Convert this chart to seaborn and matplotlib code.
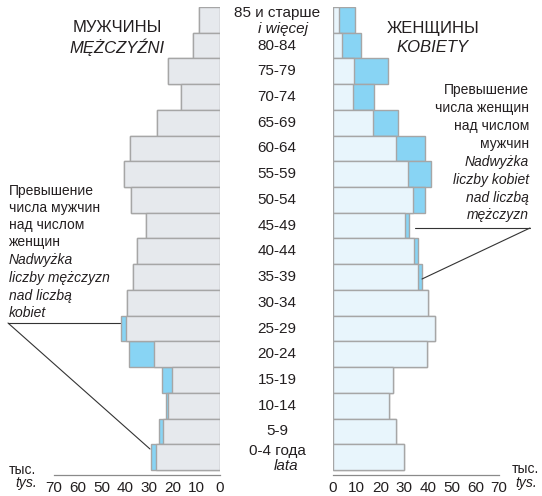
import matplotlib
matplotlib.use("Agg")
import matplotlib.pyplot as plt
import seaborn as sns
import pandas as pd
from matplotlib.lines import Line2D
from matplotlib.transforms import blended_transform_factory

# ---------------- data ----------------
ages = ["85+", "80-84", "75-79", "70-74", "65-69", "60-64", "55-59", "50-54",
        "45-49", "40-44", "35-39", "30-34", "25-29", "20-24", "15-19",
        "10-14", "5-9", "0-4"]
men_total = [8.8, 11.2, 22.1, 16.6, 26.7, 37.9, 40.4, 37.7, 31.3, 35.1,
             36.7, 39.1, 41.8, 38.4, 24.3, 22.9, 25.7, 29.2]
men_base = [8.8, 11.2, 22.1, 16.6, 26.7, 37.9, 40.4, 37.7, 31.3, 35.1,
            36.7, 39.1, 39.7, 27.8, 20.4, 21.9, 24.2, 27.1]
women_total = [9.4, 12.0, 23.1, 17.3, 27.6, 39.0, 41.3, 38.7, 32.2, 35.9,
               37.7, 40.1, 43.0, 39.5, 25.2, 23.6, 26.6, 29.9]
women_base = [2.5, 3.8, 8.9, 8.4, 16.9, 26.4, 31.8, 33.9, 30.4, 34.2,
              36.0, 40.1, 43.0, 39.5, 25.2, 23.6, 26.6, 29.9]
xticks = [0, 10, 20, 30, 40, 50, 60, 70]

df = pd.DataFrame({"age": ages, "men_total": men_total, "men_base": men_base,
                   "women_total": women_total, "women_base": women_base})

sns.set_style("white")
FONT = ["Liberation Sans Narrow", "Liberation Sans", "DejaVu Sans"]
plt.rcParams["font.family"] = FONT

W, H = 542, 496
fig = plt.figure(figsize=(W / 100, H / 100), dpi=100)

def fx(x):
    return x / W

def fy(y):
    return 1 - y / H

EXCESS = "#88d4f4"
MEN_BASE = "#e6e9ed"
WOMEN_BASE = "#e8f5fc"
EDGE = "#a6a6a6"
TXT = "#231f20"

AGE_FS = 11
TICK_FS = 11
NOTE_FS = 10
TITLE_FS = 12

ax_bottom_px = 475
ax_top_px = 7
row_h = (470 - 7) / 18.0
extra = (ax_bottom_px - 470) / row_h

axL = fig.add_axes([fx(54), fy(ax_bottom_px), fx(220) - fx(54), (ax_bottom_px - ax_top_px) / H])
axR = fig.add_axes([fx(333), fy(ax_bottom_px), fx(499) - fx(333), (ax_bottom_px - ax_top_px) / H])

for ax, tot, base, bcol in [(axL, "men_total", "men_base", MEN_BASE),
                            (axR, "women_total", "women_base", WOMEN_BASE)]:
    sns.barplot(data=df, x=tot, y="age", order=ages, orient="h", color=EXCESS,
                saturation=1, width=1.0, edgecolor=EDGE, linewidth=1.0, ax=ax)
    sns.barplot(data=df, x=base, y="age", order=ages, orient="h", color=bcol,
                saturation=1, width=1.0, edgecolor=EDGE, linewidth=1.0, ax=ax)
    ax.set_ylim(17.5 + extra, -0.5)
    ax.set_xticks(xticks)
    ax.set_xticklabels([str(t) for t in xticks])
    ax.set_yticks([])
    ax.set_xlabel("")
    ax.set_ylabel("")
    for s in ["top", "left", "right"]:
        ax.spines[s].set_visible(False)
    ax.spines["bottom"].set_color("#8a8a8a")
    ax.spines["bottom"].set_linewidth(0.9)
    ax.tick_params(axis="x", direction="in", length=3, width=0.8, color="#8a8a8a",
                   labelsize=TICK_FS, labelcolor=TXT, pad=4)
    ax.set_facecolor("none")

axL.set_xlim(70, 0)
axR.set_xlim(0, 70)

# ---------------- age labels ----------------
trans = blended_transform_factory(fig.transFigure, axL.transData)
cx = fx(277)
for i, a in enumerate(ages):
    if i == 0:
        axL.text(cx, i - 0.28, "85 и старше", transform=trans, ha="center", va="center",
                 fontsize=AGE_FS, color=TXT, clip_on=False)
        axL.text(fx(283), i + 0.36, "i więcej", transform=trans, ha="center", va="center",
                 fontsize=AGE_FS, style="italic", color=TXT, clip_on=False)
    elif i == len(ages) - 1:
        axL.text(cx, i - 0.24, "0-4 года", transform=trans, ha="center", va="center",
                 fontsize=AGE_FS, color=TXT, clip_on=False)
        axL.text(fx(286), i + 0.33, "lata", transform=trans, ha="center", va="center",
                 fontsize=AGE_FS, style="italic", color=TXT, clip_on=False)
    else:
        axL.text(cx, i, a, transform=trans, ha="center", va="center",
                 fontsize=AGE_FS, color=TXT, clip_on=False)

# ---------------- titles ----------------
fig.text(fx(117), fy(28), "МУЖЧИНЫ", ha="center", va="center", fontsize=TITLE_FS, color=TXT)
fig.text(fx(117), fy(47), "MĘŻCZYŹNI", ha="center", va="center", fontsize=TITLE_FS,
         style="italic", color=TXT)
fig.text(fx(433), fy(28), "ЖЕНЩИНЫ", ha="center", va="center", fontsize=TITLE_FS, color=TXT)
fig.text(fx(433), fy(48), "KOBIETY", ha="center", va="center", fontsize=TITLE_FS,
         style="italic", color=TXT)

# ---------------- annotations ----------------
left_lines = [("Превышение", "normal", 191), ("числа мужчин", "normal", 208),
              ("над числом", "normal", 225), ("женщин", "normal", 242),
              ("Nadwyżka", "italic", 260), ("liczby mężczyzn", "italic", 278),
              ("nad liczbą", "italic", 296), ("kobiet", "italic", 313)]
for t, st, y in left_lines:
    fig.text(fx(9), fy(y), t, ha="left", va="center", fontsize=NOTE_FS, style=st, color=TXT)

right_lines = [("Превышение", "normal", 90), ("числа женщин", "normal", 108),
               ("над числом", "normal", 126), ("мужчин", "normal", 144),
               ("Nadwyżka", "italic", 162), ("liczby kobiet", "italic", 180),
               ("nad liczbą", "italic", 198), ("mężczyzn", "italic", 215)]
for t, st, y in right_lines:
    fig.text(fx(529), fy(y), t, ha="right", va="center", fontsize=NOTE_FS, style=st, color=TXT)

def seg(x0, y0, x1, y1):
    fig.add_artist(Line2D([fx(x0), fx(x1)], [fy(y0), fy(y1)], transform=fig.transFigure,
                          color="#333333", linewidth=0.8))

seg(8, 323, 120, 323)
seg(8, 323, 150, 449)
seg(415, 228, 530, 228)
seg(530, 228, 422, 279)

# ---------------- units ----------------
fig.text(fx(9), fy(470), "тыс.", ha="left", va="center", fontsize=NOTE_FS, color=TXT)
fig.text(fx(15), fy(483), "tys.", ha="left", va="center", fontsize=NOTE_FS, style="italic", color=TXT)
fig.text(fx(512), fy(469), "тыс.", ha="left", va="center", fontsize=NOTE_FS, color=TXT)
fig.text(fx(515), fy(483), "tys.", ha="left", va="center", fontsize=NOTE_FS, style="italic", color=TXT)

fig.savefig("out.png", dpi=100, facecolor="white")
